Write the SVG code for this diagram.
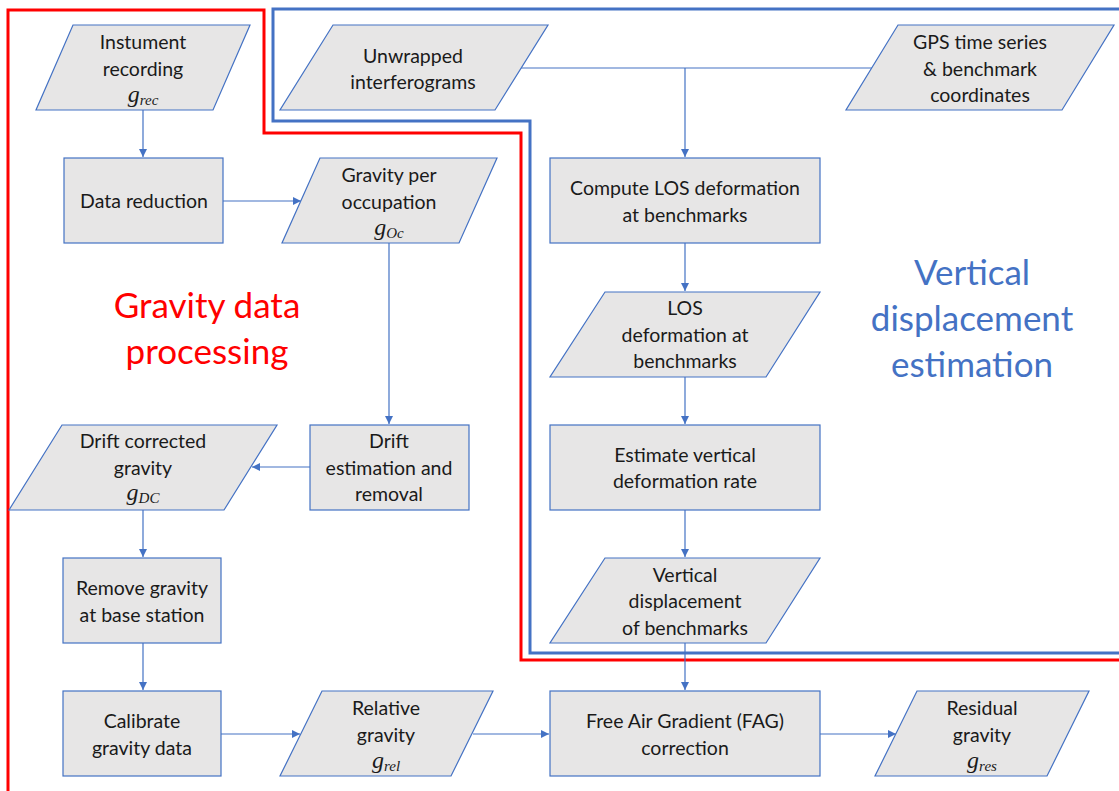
<svg xmlns="http://www.w3.org/2000/svg" width="1119" height="791" viewBox="0 0 1119 791">
<style>
.shape{fill:#E7E6E6;stroke:#4472C4;stroke-width:1.2}
.t{font-family:Lato,"Open Sans","Liberation Sans",sans-serif;font-size:19.5px;fill:#1a1a1a;text-anchor:middle}
.m{font-family:"Liberation Serif","DejaVu Serif",serif;font-style:italic;font-size:24px;fill:#1a1a1a;text-anchor:middle}
.sub{font-size:15px}
.c{fill:none;stroke:#4472C4;stroke-width:1.2}
.big{font-family:Lato,"Open Sans","Liberation Sans",sans-serif;font-size:35px;text-anchor:middle}
</style>
<defs>
<marker id="ah" viewBox="0 0 10 10" refX="10" refY="5" markerWidth="8" markerHeight="8" markerUnits="userSpaceOnUse" orient="auto">
<path d="M0,0 L10,5 L0,10 z" fill="#4472C4"/>
</marker>
</defs>
<rect width="1119" height="791" fill="#fff"/>
<g id="boundaries">
<path d="M8,791 V10 H264 V133 H521 V660 H1119" fill="none" stroke="#FF0000" stroke-width="3"/>
<path d="M1119,9 H273 V121 H530 V653 H1119" fill="none" stroke="#4472C4" stroke-width="3"/>
<text class="big" x="207" y="318" fill="#FF0000">Gravity data</text>
<text class="big" x="207" y="364" fill="#FF0000">processing</text>
<text class="big" x="972" y="285" fill="#4472C4">Vertical</text>
<text class="big" x="972" y="331" fill="#4472C4">displacement</text>
<text class="big" x="972" y="377" fill="#4472C4">estimation</text>
</g>
<g id="connectors">
<path class="c" d="M143,110 V157" marker-end="url(#ah)"/>
<path class="c" d="M223,201 H301" marker-end="url(#ah)"/>
<path class="c" d="M389,243 V424" marker-end="url(#ah)"/>
<path class="c" d="M310,467 H252" marker-end="url(#ah)"/>
<path class="c" d="M143,510 V557" marker-end="url(#ah)"/>
<path class="c" d="M143,643 V690" marker-end="url(#ah)"/>
<path class="c" d="M221,734 H300" marker-end="url(#ah)"/>
<path class="c" d="M473,734 H549" marker-end="url(#ah)"/>
<path class="c" d="M820,734 H896" marker-end="url(#ah)"/>
<path class="c" d="M521,68 H872"/>
<path class="c" d="M685,68 V157" marker-end="url(#ah)"/>
<path class="c" d="M685,243 V291" marker-end="url(#ah)"/>
<path class="c" d="M685,377 V424" marker-end="url(#ah)"/>
<path class="c" d="M685,510 V557" marker-end="url(#ah)"/>
<path class="c" d="M685,643 V690" marker-end="url(#ah)"/>
</g>
<g id="instrument">
<polygon class="shape" points="73,25 250,25 213,110 36,110"/>
<text class="t" x="143" y="49">Instument</text>
<text class="t" x="143" y="76">recording</text>
<text class="m" x="143" y="102">g<tspan class="sub" dy="3">rec</tspan></text>
</g>
<g id="unwrapped">
<polygon class="shape" points="333,25 548,25 495,110 280,110"/>
<text class="t" x="413" y="63">Unwrapped</text>
<text class="t" x="413" y="89">interferograms</text>
</g>
<g id="gps">
<polygon class="shape" points="898,25 1114,25 1062,110 846,110"/>
<text class="t" x="980" y="49">GPS time series</text>
<text class="t" x="980" y="76">&amp; benchmark</text>
<text class="t" x="980" y="102">coordinates</text>
</g>
<g id="data-reduction">
<rect class="shape" x="64" y="158" width="159" height="85"/>
<text class="t" x="144" y="208">Data reduction</text>
</g>
<g id="gravity-occupation">
<polygon class="shape" points="320,158 497,158 459,243 282,243"/>
<text class="t" x="389" y="182">Gravity per</text>
<text class="t" x="389" y="209">occupation</text>
<text class="m" x="389" y="235">g<tspan class="sub" dy="3">Oc</tspan></text>
</g>
<g id="compute-los">
<rect class="shape" x="550" y="158" width="270" height="85"/>
<text class="t" x="685" y="195">Compute LOS deformation</text>
<text class="t" x="685" y="222">at benchmarks</text>
</g>
<g id="los-deformation">
<polygon class="shape" points="605,292 820,292 766,377 550,377"/>
<text class="t" x="685" y="315">LOS</text>
<text class="t" x="685" y="342">deformation at</text>
<text class="t" x="685" y="368">benchmarks</text>
</g>
<g id="drift-corrected">
<polygon class="shape" points="62,425 277,425 224,510 9,510"/>
<text class="t" x="143" y="448">Drift corrected</text>
<text class="t" x="143" y="475">gravity</text>
<text class="m" x="143" y="500">g<tspan class="sub" dy="3">DC</tspan></text>
</g>
<g id="drift-estimation">
<rect class="shape" x="310" y="425" width="159" height="85"/>
<text class="t" x="389" y="448">Drift</text>
<text class="t" x="389" y="475">estimation and</text>
<text class="t" x="389" y="501">removal</text>
</g>
<g id="estimate-vertical">
<rect class="shape" x="550" y="425" width="270" height="85"/>
<text class="t" x="685" y="462">Estimate vertical</text>
<text class="t" x="685" y="488">deformation rate</text>
</g>
<g id="remove-gravity">
<rect class="shape" x="63" y="558" width="158" height="85"/>
<text class="t" x="142" y="595">Remove gravity</text>
<text class="t" x="142" y="622">at base station</text>
</g>
<g id="vertical-displacement">
<polygon class="shape" points="605,558 820,558 766,643 550,643"/>
<text class="t" x="685" y="582">Vertical</text>
<text class="t" x="685" y="608">displacement</text>
<text class="t" x="685" y="635">of benchmarks</text>
</g>
<g id="calibrate">
<rect class="shape" x="63" y="691" width="158" height="85"/>
<text class="t" x="142" y="728">Calibrate</text>
<text class="t" x="142" y="755">gravity data</text>
</g>
<g id="relative-gravity">
<polygon class="shape" points="322,691 493,691 451,776 280,776"/>
<text class="t" x="386" y="715">Relative</text>
<text class="t" x="386" y="742">gravity</text>
<text class="m" x="386" y="768">g<tspan class="sub" dy="3">rel</tspan></text>
</g>
<g id="fag">
<rect class="shape" x="550" y="691" width="270" height="85"/>
<text class="t" x="685" y="728">Free Air Gradient (FAG)</text>
<text class="t" x="685" y="755">correction</text>
</g>
<g id="residual-gravity">
<polygon class="shape" points="917,691 1089,691 1047,776 875,776"/>
<text class="t" x="982" y="715">Residual</text>
<text class="t" x="982" y="742">gravity</text>
<text class="m" x="982" y="768">g<tspan class="sub" dy="3">res</tspan></text>
</g>
</svg>
